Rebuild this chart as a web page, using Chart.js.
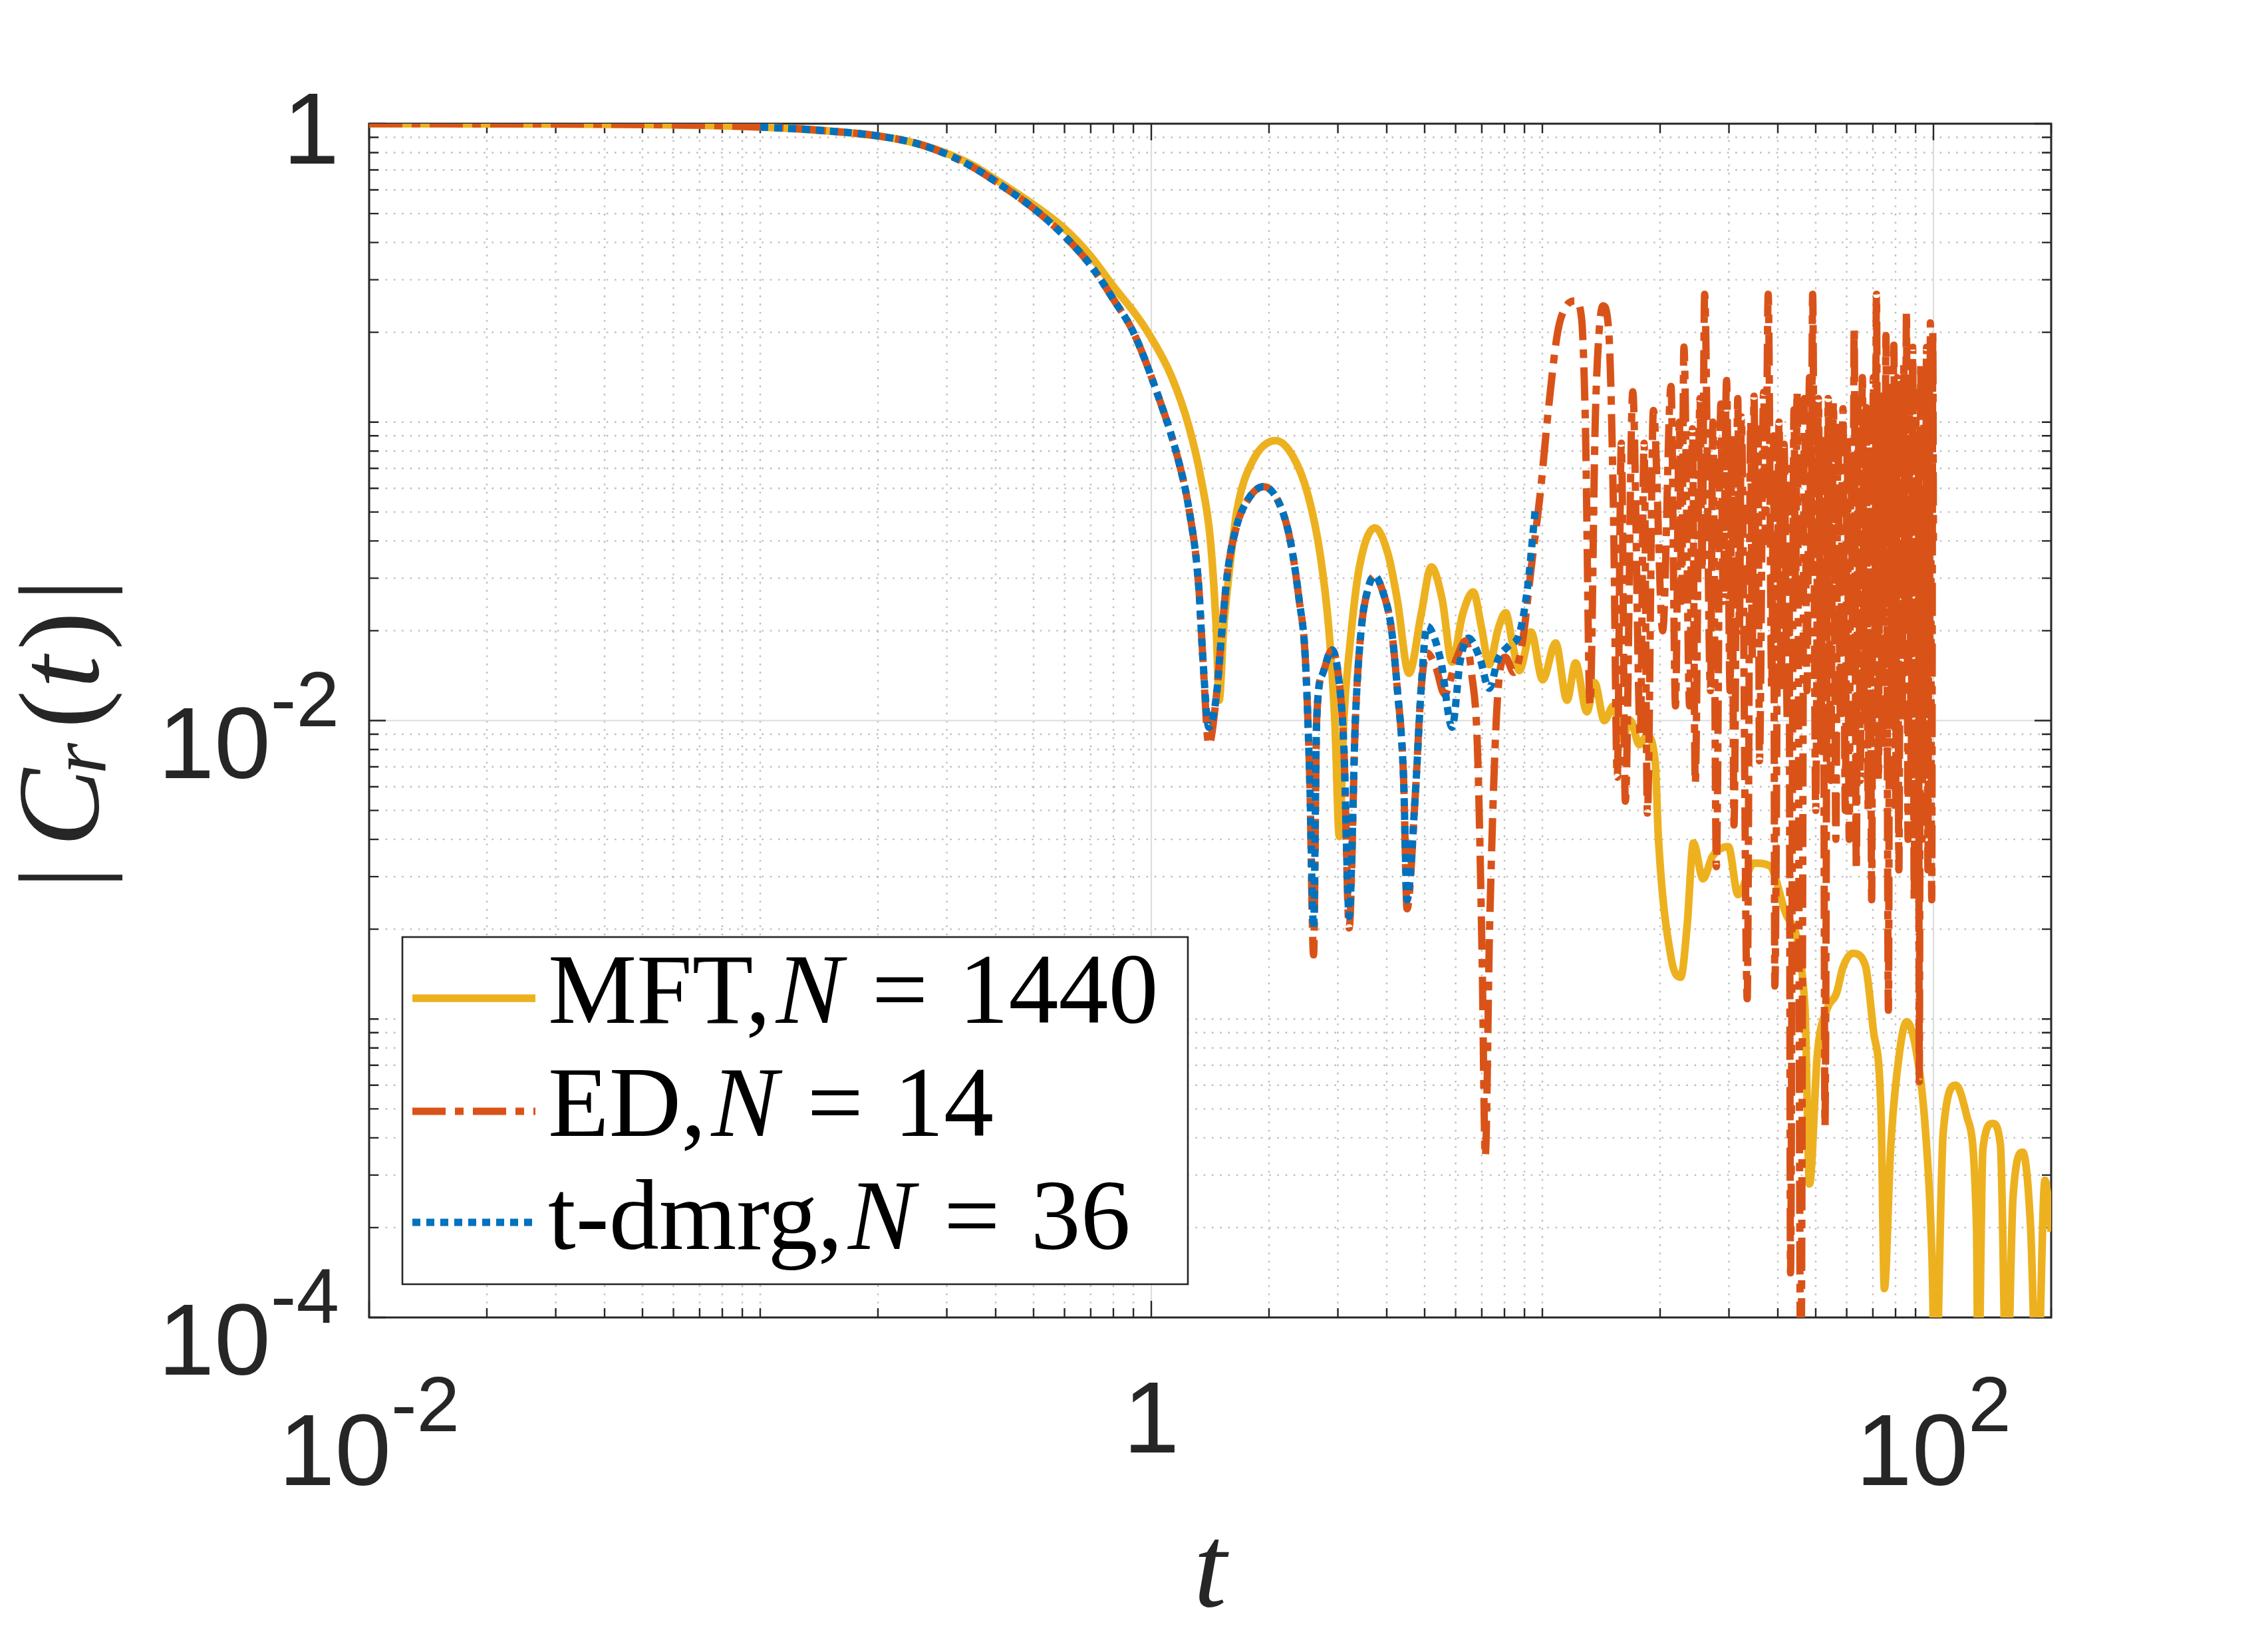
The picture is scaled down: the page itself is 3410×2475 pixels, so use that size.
<!DOCTYPE html>
<html>
<head>
<meta charset="utf-8">
<script src="https://cdn.jsdelivr.net/npm/chart.js@4.4.1/dist/chart.umd.min.js"></script>
<style>
html,body{margin:0;padding:0;background:#ffffff;}
#c{display:block;}
</style>
</head>
<body>
<canvas id="c" width="3410" height="2475"></canvas>
<script>
// ---------------- data (t, |C_r(t)|) ----------------
const mftPoints = [
[0.01,1.0],[0.02,0.999],[0.03,0.998],[0.05,0.994],[0.07,0.988],[0.1,0.975],[0.15,0.945],[0.2,0.91],
[0.25,0.86],[0.3,0.795],[0.35,0.725],[0.4,0.65],[0.5,0.535],[0.6,0.445],[0.7,0.36],[0.8,0.285],
[0.9,0.235],[0.98,0.2],[1.127,0.142],[1.25,0.0959],[1.343,0.0637],[1.416,0.0403],[1.466,0.0203],
[1.491,0.0117],[1.531,0.0203],[1.585,0.0321],[1.656,0.0506],[1.807,0.0731],[2.08,0.0867],[2.307,0.0764],
[2.518,0.0568],[2.704,0.0359],[2.844,0.0203],[2.944,0.0102],[3.027,0.00409],[3.108,0.0102],[3.221,0.018],
[3.396,0.0321],[3.733,0.0442],[4.036,0.0359],[4.256,0.0254],[4.56,0.0144],[4.898,0.0227],[5.2,0.0327],
[5.546,0.0254],[5.875,0.0157],[6.252,0.0227],[6.653,0.027],[6.998,0.0203],[7.311,0.0154],[7.709,0.0203],
[8.054,0.023],[8.414,0.0177],[8.73,0.0147],[9.354,0.0198],[10.02,0.0137],[10.81,0.0182],[11.56,0.0117],
[12.16,0.0156],[13.0,0.0107],[13.6,0.0134],[14.4,0.01],[15.2,0.0112],[16.0,0.0087],[16.8,0.01],
[17.7,0.0083],[18.5,0.0089],[19.44,0.0072],[19.81,0.004],[21.35,0.0016],[22.58,0.00138],[23.44,0.00204],
[24.34,0.00389],[25.75,0.00295],[27.23,0.00351],[29.9,0.00378],[31.64,0.00261],[34.74,0.00333],
[38.14,0.00326],[41.9,0.00226],[46.9,0.00111],[48.2,0.00028],[50.5,0.000766],[53.45,0.00108],
[56.5,0.00122],[58.7,0.00149],[62.1,0.00166],[66.9,0.00152],[70.1,0.00093],[73.5,0.000469],
[74.9,0.000125],[77.7,0.000368],[80.7,0.000662],[85.4,0.00098],[90.3,0.000785],[95.5,0.000416],
[99.2,0.000156],[101.0,0.00005],[105.9,0.000416],[114.1,0.0006],[121.9,0.000469],[128.9,0.000199],
[130.1,0.00005],[133.8,0.000368],[141.6,0.000447],[148.4,0.000377],[153.9,0.00005],[159.8,0.000254],
[169.1,0.000358],[177.2,0.0002],[184,0.00005],[192.8,0.000288],[200,0.000194]
];

const edPoints = [
[0.01,1.0],[0.02,0.999],[0.03,0.998],[0.05,0.994],[0.07,0.988],[0.1,0.975],[0.15,0.945],[0.2,0.91],
[0.25,0.86],[0.3,0.79],[0.35,0.715],[0.4,0.64],[0.5,0.52],[0.6,0.42],[0.7,0.335],[0.8,0.258],
[0.9,0.2],[1.032,0.1265],[1.167,0.0764],[1.25,0.0506],[1.321,0.0286],[1.355,0.0161],[1.403,0.0083],
[1.466,0.012],[1.517,0.0203],[1.57,0.0321],[1.656,0.0452],[1.774,0.0555],[1.936,0.0608],[2.113,0.0542],
[2.265,0.0403],[2.388,0.0254],[2.477,0.0161],[2.541,0.00646],[2.6,0.00164],[2.649,0.0102],[2.748,0.01445],
[2.897,0.01726],[3.003,0.01445],[3.108,0.00813],[3.206,0.00202],[3.327,0.0102],[3.443,0.0203],
[3.573,0.0273],[3.724,0.0305],[3.899,0.0273],[4.111,0.0203],[4.256,0.0128],[4.416,0.00646],
[4.508,0.00234],[4.732,0.00562],[4.898,0.0128],[5.07,0.01687],[5.346,0.01503],[5.623,0.01225],
[6.026,0.0161],[6.368,0.0185],[6.592,0.01439],[6.823,0.0081],[7.015,0.00158],[7.145,0.000347],
[7.328,0.002],[7.709,0.0128],[8.05,0.0163],[8.45,0.0145],[8.9,0.0185],[9.354,0.0321],[9.863,0.0568],
[10.38,0.1127],[10.94,0.2],[11.53,0.2455],[12.16,0.2547],[12.59,0.224],[12.88,0.1],[13.24,0.0113],
[13.65,0.1],[13.96,0.1995],[14.29,0.2455],[14.79,0.1995],[15.2,0.05],[15.54,0.00646],[15.92,0.085],
[16.3,0.00537],[17.03,0.1265],[17.8,0.0089],[18.2,0.085],[18.56,0.0049],[19.23,0.1094],[20.31,0.02],
[21.33,0.1318],[21.9,0.0112],[22.4,0.1],[22.7,0.0251],[23.01,0.1786],[23.8,0.0112],[24.2,0.095],
[24.6,0.00617],[25.3,0.12],[25.6,0.0316],[26.0,0.268],[26.9,0.0126],[27.3,0.1],[27.86,0.00324],
[28.6,0.115],[29.0,0.0251],[29.58,0.138],[30.2,0.0126],[30.5,0.09],[30.9,0.00447],[31.6,0.12],
[31.9,0.02],[32.27,0.1042],[33.4,0.00117],[34.1,0.1],[34.4,0.0158],[34.75,0.1222],[35.3,0.02],
[35.6,0.095],[35.9,0.00733],[36.8,0.126],[37.2,0.0398],[37.8,0.268],[38.6,0.0126],[39.0,0.09],
[39.3,0.00129],[40.3,0.1],[40.8,0.0126],[41.5,0.0843],[42.3,0.01],[42.7,0.07],[43.1,0.000141],
[44.0,0.11],[44.4,0.0251],[44.8,0.1265],[45.8,0.00005],[46.8,0.12],[47.5,0.0126],[48.2,0.141],
[48.6,0.0316],[49.1,0.268],[50.0,0.005],[50.8,0.12],[51.6,0.0079],[52.2,0.09],[52.8,0.000437],
[53.8,0.12],[54.6,0.0063],[55.5,0.1164],[56.3,0.004],[57.0,0.1],[57.8,0.01],[58.7,0.1109],
[59.5,0.005],[60.2,0.09],[60.9,0.004],[61.5,0.08],[62.2,0.0158],[62.7,0.207],[63.5,0.00316],
[64.2,0.12],[65.0,0.0063],[65.8,0.141],[66.6,0.01],[67.3,0.112],[68.1,0.005],[68.8,0.1],
[69.5,0.00251],[70.2,0.141],[70.8,0.02],[71.5,0.268],[72.3,0.0063],[73.1,0.126],[73.9,0.0079],
[74.7,0.112],[75.1,0.0251],[75.6,0.195],[76.7,0.00107],[77.5,0.126],[78.2,0.01],[79.2,0.181],
[80.0,0.005],[80.8,0.141],[81.6,0.00316],[82.4,0.112],[83.2,0.01],[84.0,0.158],[84.6,0.02],
[85.3,0.234],[86.1,0.004],[86.9,0.141],[87.7,0.0063],[88.5,0.178],[89.3,0.00251],[90.1,0.126],
[90.9,0.005],[91.5,0.09],[92.0,0.000617],[92.8,0.158],[93.6,0.004],[94.4,0.126],[95.2,0.0063],
[96.0,0.178],[96.8,0.00316],[97.5,0.141],[97.9,0.0158],[98.2,0.215],[99.0,0.00251],[99.6,0.2],
[100.0,0.04]
];

const dmrgPoints = [
[0.1,0.975],[0.15,0.945],[0.2,0.91],[0.25,0.86],[0.3,0.79],[0.35,0.715],[0.4,0.64],[0.5,0.52],
[0.6,0.42],[0.7,0.335],[0.8,0.258],[0.9,0.2],[1.032,0.1265],[1.167,0.0764],[1.25,0.0506],[1.321,0.0286],
[1.355,0.0161],[1.403,0.0095],[1.466,0.012],[1.517,0.0203],[1.57,0.0321],[1.656,0.0452],[1.774,0.0555],
[1.936,0.0608],[2.113,0.0542],[2.265,0.0403],[2.388,0.0254],[2.477,0.0161],[2.541,0.00646],[2.6,0.00202],
[2.649,0.0102],[2.748,0.01445],[2.897,0.01726],[3.003,0.01445],[3.108,0.00813],[3.206,0.00221],
[3.327,0.0102],[3.443,0.0203],[3.573,0.0273],[3.724,0.0305],[3.899,0.0273],[4.111,0.0203],[4.256,0.0128],
[4.416,0.00646],[4.508,0.00251],[4.732,0.00562],[4.898,0.0128],[5.07,0.0207],[5.5,0.01585],[5.875,0.0095],
[6.166,0.01585],[6.471,0.0189],[6.918,0.0162],[7.31,0.01282],[7.709,0.0161],[8.2,0.0178],[8.73,0.0195],
[9.183,0.0285],[9.506,0.0452],[9.594,0.0512]
];

// axis ranges and tick labels
const xRange = [0.01, 200];
const yRange = [1e-4, 1];
const xTickValues = [0.01, 1, 100];
const xTickLabels = [['10', '-2'], ['1', ''], ['10', '2']];
const yTickValues = [1e-4, 1e-2, 1];
const yTickLabels = [['10', '-4'], ['10', '-2'], ['1', '']];
const seriesNames = [['MFT,', 'N', '=', '1440'], ['ED,', 'N', '=', '14'], ['t-dmrg,', 'N', '=', '36']];

// ---------------- helpers ----------------
function minorTicks(lo, hi, d0, d1, majors) {
  const out = [];
  for (let d = d0; d <= d1; d++) {
    for (let k = 1; k <= 9; k++) {
      const v = +(k * Math.pow(10, d)).toPrecision(6);
      if (v < lo * 0.999 || v > hi * 1.001) continue;
      if (majors.some(m => Math.abs(m - v) / m < 1e-6)) continue;
      out.push(v);
    }
  }
  return out;
}
const xMinor = minorTicks(xRange[0], xRange[1], -2, 2, xTickValues);
const yMinor = minorTicks(yRange[0], yRange[1], -4, 0, yTickValues);

const AX = '#262626';
const SANS = '"Liberation Sans", Arial, Helvetica, sans-serif';
const SERIF = '"Liberation Serif", "Times New Roman", serif';

function drawPow(ctx, parts, x, baseY, supY, align) {
  const [b, e] = parts;
  ctx.font = '152px ' + SANS;
  const wb = ctx.measureText(b).width;
  ctx.font = '116px ' + SANS;
  const we = e ? ctx.measureText(e).width : 0;
  const total = wb + we;
  const x0 = align === 'center' ? x - total / 2 : x - total;
  ctx.textAlign = 'left';
  ctx.font = '152px ' + SANS;
  ctx.fillText(b, x0, baseY);
  if (e) {
    ctx.font = '116px ' + SANS;
    ctx.fillText(e, x0 + wb, supY);
  }
}

const framePlugin = {
  id: 'frame',
  beforeDatasetsDraw(chart) {
    const {ctx, chartArea: a, scales: {x, y}} = chart;
    ctx.save();
    ctx.lineCap = 'butt';
    // minor grid (dotted)
    ctx.strokeStyle = '#bdbdbd';
    ctx.lineWidth = 2.4;
    ctx.setLineDash([2.6, 9.7]);
    ctx.beginPath();
    xMinor.forEach(v => { const p = x.getPixelForValue(v); ctx.moveTo(p, a.top); ctx.lineTo(p, a.bottom); });
    yMinor.forEach(v => { const p = y.getPixelForValue(v); ctx.moveTo(a.left, p); ctx.lineTo(a.right, p); });
    ctx.stroke();
    // major grid (solid, light)
    ctx.setLineDash([]);
    ctx.strokeStyle = '#dddddd';
    ctx.lineWidth = 2.2;
    ctx.beginPath();
    xTickValues.forEach(v => { const p = x.getPixelForValue(v); ctx.moveTo(p, a.top); ctx.lineTo(p, a.bottom); });
    yTickValues.forEach(v => { const p = y.getPixelForValue(v); ctx.moveTo(a.left, p); ctx.lineTo(a.right, p); });
    ctx.stroke();
    // tick marks (inside, all four sides)
    ctx.strokeStyle = AX;
    ctx.lineWidth = 2.4;
    ctx.beginPath();
    const tx = (v, len) => { const p = x.getPixelForValue(v);
      ctx.moveTo(p, a.bottom); ctx.lineTo(p, a.bottom - len);
      ctx.moveTo(p, a.top); ctx.lineTo(p, a.top + len); };
    const ty = (v, len) => { const p = y.getPixelForValue(v);
      ctx.moveTo(a.left, p); ctx.lineTo(a.left + len, p);
      ctx.moveTo(a.right, p); ctx.lineTo(a.right - len, p); };
    xMinor.forEach(v => tx(v, 14));
    yMinor.forEach(v => ty(v, 14));
    xTickValues.forEach(v => tx(v, 25));
    yTickValues.forEach(v => ty(v, 25));
    ctx.stroke();
    // box
    ctx.lineWidth = 3;
    ctx.strokeRect(a.left, a.top, a.right - a.left, a.bottom - a.top);
    ctx.restore();
  },
  afterDatasetsDraw(chart) {
    const {ctx} = chart;
    ctx.save();
    // legend box
    const L = {x: 605, y: 1409, w: 1181, h: 522};
    ctx.fillStyle = '#ffffff';
    ctx.fillRect(L.x, L.y, L.w, L.h);
    ctx.strokeStyle = AX;
    ctx.lineWidth = 2.6;
    ctx.setLineDash([]);
    ctx.strokeRect(L.x, L.y, L.w, L.h);
    const sampleY = [1501, 1671, 1838];
    const baseY = [1538, 1708, 1878];
    seriesNames.forEach((nm, i) => {
      const ds = chart.data.datasets[i];
      ctx.strokeStyle = ds.borderColor;
      ctx.lineWidth = ds.borderWidth;
      ctx.lineCap = 'butt';
      ctx.setLineDash(ds.borderDash || []);
      ctx.beginPath();
      ctx.moveTo(620, sampleY[i]);
      ctx.lineTo(805, sampleY[i]);
      ctx.stroke();
      ctx.setLineDash([]);
      ctx.fillStyle = '#000000';
      ctx.textAlign = 'left';
      ctx.textBaseline = 'alphabetic';
      let xx = 824;
      ctx.font = '150px ' + SERIF;
      ctx.fillText(nm[0], xx, baseY[i]);
      xx += ctx.measureText(nm[0]).width + 8;
      ctx.font = 'italic 150px ' + SERIF;
      ctx.fillText(nm[1], xx, baseY[i]);
      xx += ctx.measureText(nm[1]).width + 44;
      ctx.font = '150px ' + SERIF;
      ctx.fillText(nm[2], xx, baseY[i]);
      xx += ctx.measureText(nm[2]).width + 46;
      ctx.fillText(nm[3], xx, baseY[i]);
    });
    ctx.restore();
  },
  afterDraw(chart) {
    const {ctx, chartArea: a, scales: {x, y}} = chart;
    ctx.save();
    ctx.fillStyle = AX;
    ctx.textBaseline = 'alphabetic';
    // x tick labels
    xTickValues.forEach((v, i) => {
      const p = x.getPixelForValue(v);
      const lab = xTickLabels[i];
      if (lab[1]) drawPow(ctx, lab, p, a.bottom + 252, a.bottom + 171, 'center');
      else drawPow(ctx, lab, p, a.bottom + 203, 0, 'center');
    });
    // y tick labels
    yTickValues.forEach((v, i) => {
      const p = y.getPixelForValue(v);
      const lab = yTickLabels[i];
      if (lab[1]) drawPow(ctx, lab, a.left - 45, p + 86, p + 8, 'right');
      else drawPow(ctx, lab, a.left - 45, p + 60, 0, 'right');
    });
    // x axis title
    ctx.textAlign = 'center';
    ctx.font = 'italic 178px ' + SERIF;
    ctx.fillText('t', (a.left + a.right) / 2, a.bottom + 434);
    // y axis title |C_r(t)|
    const cy = (a.top + a.bottom) / 2;
    const pieces = [
      ['|', '', 172, 236, 0], ['C', 'italic ', 176, 131, 0], ['r', 'italic ', 120, 57, 12],
      ['(', '', 172, -17, 0], ['t', 'italic ', 176, -73, 0], [')', '', 172, -135, 0], ['|', '', 172, -196, 0]
    ];
    pieces.forEach(([s, st, sz, dy, shift]) => {
      ctx.save();
      ctx.translate(147 + shift, cy + dy);
      ctx.rotate(-Math.PI / 2);
      ctx.font = st + sz + 'px ' + SERIF;
      ctx.textAlign = 'center';
      ctx.fillText(s, 0, 0);
      ctx.restore();
    });
    ctx.restore();
  }
};

const toXY = pts => pts.map(([t, v]) => ({x: t, y: v}));

new Chart(document.getElementById('c'), {
  type: 'line',
  data: {
    datasets: [
      {label: 'MFT, N = 1440', data: toXY(mftPoints), borderColor: '#EDB120', borderWidth: 11.5,
       borderDash: [], order: 3},
      {label: 'ED, N = 14', data: toXY(edPoints), borderColor: '#D95319', borderWidth: 11,
       borderDash: [50, 14, 13, 14], order: 2},
      {label: 't-dmrg, N = 36', data: toXY(dmrgPoints), borderColor: '#0072BD', borderWidth: 11,
       borderDash: [12, 9], order: 1}
    ]
  },
  options: {
    responsive: false,
    animation: false,
    devicePixelRatio: 1,
    layout: {padding: {left: 555, right: 326, top: 186, bottom: 494}},
    elements: {
      point: {radius: 0, hoverRadius: 0},
      line: {cubicInterpolationMode: 'monotone', borderJoinStyle: 'round', borderCapStyle: 'butt', fill: false}
    },
    plugins: {legend: {display: false}, tooltip: {enabled: false}, title: {display: false}},
    events: [],
    scales: {
      x: {type: 'logarithmic', min: xRange[0], max: xRange[1], display: true,
          grid: {display: false, drawTicks: false}, ticks: {display: false}, border: {display: false}},
      y: {type: 'logarithmic', min: yRange[0], max: yRange[1], display: true,
          grid: {display: false, drawTicks: false}, ticks: {display: false}, border: {display: false}}
    }
  },
  plugins: [framePlugin]
});
</script>
</body>
</html>
